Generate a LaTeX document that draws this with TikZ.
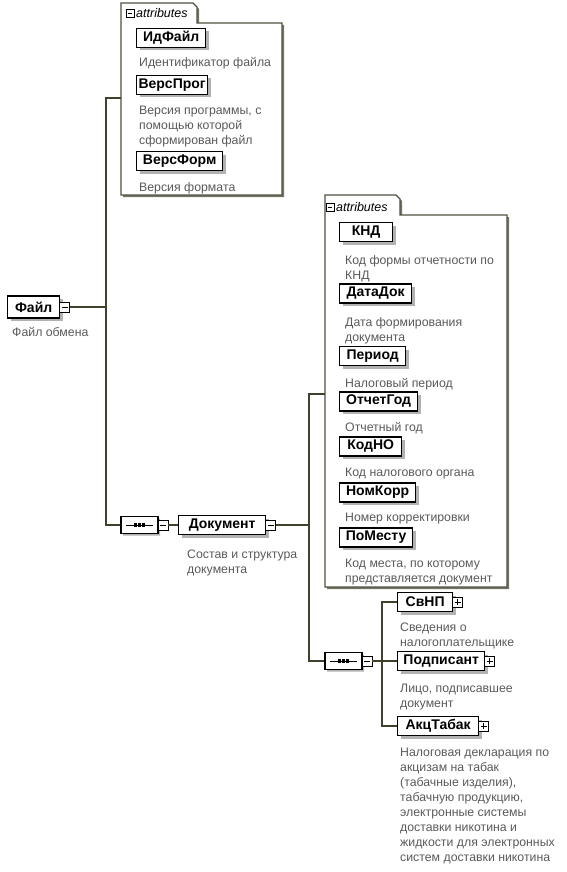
\documentclass[tikz,border=0pt]{standalone}
\usepackage{fontspec}
\setmainfont{Liberation Sans}
\usetikzlibrary{shapes.misc,shadows}

\definecolor{lineC}{RGB}{64,64,44}
\definecolor{frameC}{RGB}{80,80,64}
\definecolor{descC}{RGB}{90,90,90}

\tikzset{
  elem/.style={draw, line width=1.3pt, fill=white, anchor=west, minimum height=19pt, inner sep=0pt,
    font=\fontsize{14}{16}\selectfont\bfseries,
    drop shadow={shadow xshift=3pt, shadow yshift=-3pt, fill=black!30, opacity=1}},
  % base of a description = baseline of its last line
  desc/.style={anchor=base west, align=left, inner sep=0pt, text=descC,
    font=\fontsize{12.3}{15}\selectfont},
  conn/.style={draw=lineC, line width=1.3pt},
  frame/.style={draw=frameC, line width=1.2pt, fill=white,
    drop shadow={shadow xshift=2pt, shadow yshift=-2pt, fill=frameC!80, opacity=1}},
  tabtext/.style={anchor=west, inner sep=0pt, font=\fontsize{12.5}{14}\selectfont\itshape},
  btnbox/.style={draw, fill=white, line width=0.8pt, inner sep=0pt, minimum size=10pt},
  collapse/.style={btnbox, path picture={
    \draw[line width=0.8pt] ([xshift=2pt]path picture bounding box.west) -- ([xshift=-2pt]path picture bounding box.east);}},
  expand/.style={btnbox, path picture={
    \draw[line width=0.8pt] ([xshift=2pt]path picture bounding box.west) -- ([xshift=-2pt]path picture bounding box.east);
    \draw[line width=0.8pt] ([yshift=2pt]path picture bounding box.south) -- ([yshift=-2pt]path picture bounding box.north);}},
  onedge/.style={anchor=west, xshift=-1pt},
  seq/.style={chamfered rectangle, chamfered rectangle xsep=5pt, chamfered rectangle ysep=5pt,
    draw, line width=1.2pt, fill=white, inner sep=0pt, minimum width=37pt, minimum height=17pt,
    drop shadow={shadow xshift=2pt, shadow yshift=-2pt, fill=black!30, opacity=1},
    path picture={
      \draw[line width=1pt] ([xshift=5pt]path picture bounding box.west) -- ([xshift=-5pt]path picture bounding box.east);
      \draw[line width=3.2pt, dash pattern=on 3.2pt off 0.9pt]
        ([xshift=-5.7pt]path picture bounding box.center) -- ([xshift=5.7pt]path picture bounding box.center);}}
}

\begin{document}
\begin{tikzpicture}[x=1pt,y=-1pt]
\useasboundingbox (0,0) rectangle (566,872);

% root element
\node[elem, minimum width=52pt, minimum height=22pt] (file) at (7,307) {Файл};
\node[collapse, onedge] (fileBtn) at (file.east) {};
\node[desc] (fileD) at (12,336) {Файл обмена};

% attributes of the root
\draw[frame] (121,195) -- (121,3) -- (193,3) -- (197,7) -- (197,23) -- (282,23) -- (282,195) -- cycle;
\node[collapse, minimum size=8pt] (tabAbtn) at (130,13) {};
\node[tabtext] (tabA) at (136,13) {attributes};
\coordinate (attrAin) at (121,98);

\node[elem, minimum width=69pt] (idFile) at (136,38) {ИдФайл};
\node[desc] (idFileD) at (139,67) {Идентификатор файла};
\node[elem, minimum width=71pt] (versProg) at (136,85) {ВерсПрог};
\node[desc] (versProgD) at (139,144) {Версия программы, с\\помощью которой\\сформирован файл};
\node[elem, minimum width=86pt] (versForm) at (136,161) {ВерсФорм};
\node[desc] (versFormD) at (139,191) {Версия формата};

% sequence under the root
\node[seq] (seqA) at (139.5,525) {};
\node[collapse, onedge] (seqAbtn) at (seqA.east) {};
\node[elem, minimum width=87pt] (doc) at (178,525) {Документ};
\node[collapse, onedge] (docBtn) at (doc.east) {};
\node[desc] (docD) at (187,573) {Состав и структура\\документа};

% attributes of Документ
\draw[frame] (325,587) -- (325,195) -- (396,195) -- (400,199) -- (400,215) -- (507,215) -- (507,587) -- cycle;
\node[collapse, minimum size=8pt] (tabBbtn) at (330,207) {};
\node[tabtext] (tabB) at (336,207) {attributes};
\coordinate (attrBin) at (325,394);

\node[elem, minimum width=53pt] (knd) at (339,232) {КНД};
\node[desc] (kndD) at (345,279) {Код формы отчетности по\\КНД};
\node[elem, minimum width=72pt] (dataDok) at (339,293.5) {ДатаДок};
\node[desc] (dataDokD) at (345,341) {Дата формирования\\документа};
\node[elem, minimum width=66pt] (period) at (339,356) {Период};
\node[desc] (periodD) at (345,387) {Налоговый период};
\node[elem, minimum width=78pt] (otchGod) at (339,401.5) {ОтчетГод};
\node[desc] (otchGodD) at (345,431) {Отчетный год};
\node[elem, minimum width=62pt] (kodNO) at (339,446.5) {КодНО};
\node[desc] (kodNOD) at (345,476) {Код налогового органа};
\node[elem, minimum width=76pt] (nomKorr) at (339,492.5) {НомКорр};
\node[desc] (nomKorrD) at (345,521) {Номер корректировки};
\node[elem, minimum width=73pt] (poMestu) at (339,537.5) {ПоМесту};
\node[desc] (poMestuD) at (345,582) {Код места, по которому\\представляется документ};

% sequence under Документ
\node[seq] (seqB) at (343.5,661) {};
\node[collapse, onedge] (seqBbtn) at (seqB.east) {};

\node[elem, minimum width=55pt] (svnp) at (397,602) {СвНП};
\node[expand, onedge] (svnpBtn) at (svnp.east) {};
\node[desc] (svnpD) at (400,646) {Сведения о\\налогоплательщике};
\node[elem, minimum width=87pt] (podp) at (397,661) {Подписант};
\node[expand, onedge] (podpBtn) at (podp.east) {};
\node[desc] (podpD) at (400,707) {Лицо, подписавшее\\документ};
\node[elem, minimum width=81pt] (akc) at (397,726) {АкцТабак};
\node[expand, onedge] (akcBtn) at (akc.east) {};
\node[desc] (akcD) at (400,861) {Налоговая декларация по\\акцизам на табак\\(табачные изделия),\\табачную продукцию,\\электронные системы\\доставки никотина и\\жидкости для электронных\\систем доставки никотина};

% connectors
\coordinate (busAtop) at (106,98);
\coordinate (busBtop) at (309,394);
\coordinate (busC) at (382,661);
\draw[conn] (fileBtn.east) -- (fileBtn.east -| busAtop);
\draw[conn] (attrAin) -- (busAtop) |- (seqA.west);
\draw[conn] (seqAbtn.east) -- (doc.west);
\draw[conn] (docBtn.east) -- (docBtn.east -| busBtop);
\draw[conn] (attrBin) -- (busBtop) |- (seqB.west);
\draw[conn] (seqBbtn.east) -- (podp.west);
\draw[conn] (svnp.west) -| (busC) |- (akc.west);

\end{tikzpicture}
\end{document}
